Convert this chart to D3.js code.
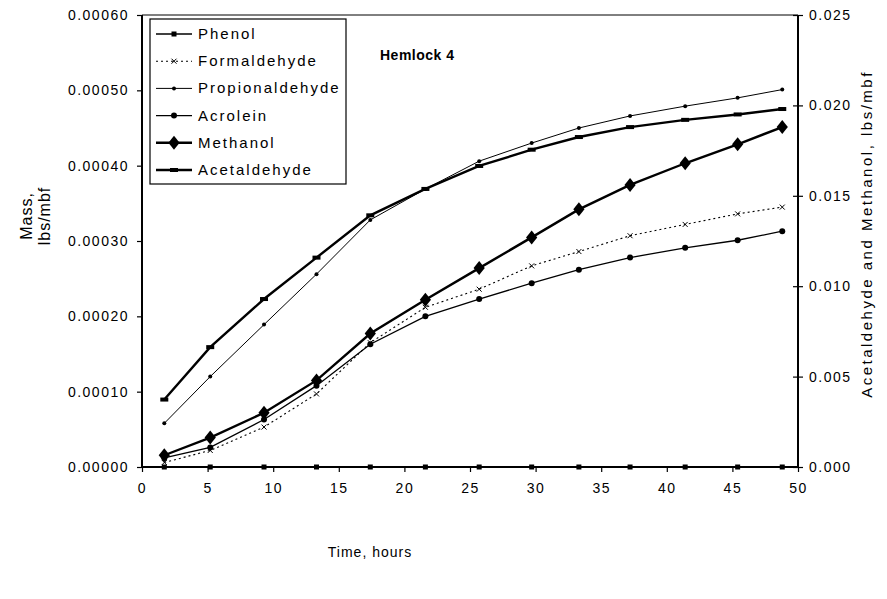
<!DOCTYPE html>
<html>
<head>
<meta charset="utf-8">
<script src="https://cdn.jsdelivr.net/npm/d3@7"></script>
<style>
  body { margin: 0; background: #fff; }
  svg text { font-family: "Liberation Sans", Arial, sans-serif; fill: #000; }
</style>
</head>
<body>
<svg id="chart" width="887" height="599"></svg>
<script>
// 時間 (hours)
const hours = [1.7, 5.2, 9.3, 13.3, 17.4, 21.6, 25.7, 29.7, 33.3, 37.2, 41.4, 45.4, 48.8];

// 左軸 (lbs/mbf)
const phenol = [0, 0, 0, 0, 0, 0, 0, 0, 0, 0, 0, 0, 0];
const formaldehyde = [0.000006, 0.000022, 0.000053, 0.000097, 0.000165, 0.000212, 0.000236, 0.000267, 0.000286, 0.000307, 0.000322, 0.000336, 0.000345];
const propionaldehyde = [0.000058, 0.00012, 0.000189, 0.000256, 0.000328, 0.000369, 0.000406, 0.000430, 0.000450, 0.000466, 0.000479, 0.000490, 0.000501];
const acrolein = [0.000012, 0.000026, 0.000063, 0.000108, 0.000163, 0.0002, 0.000223, 0.000244, 0.000262, 0.000278, 0.000291, 0.000301, 0.000313];

// 右軸 (lbs/mbf)
const methanol = [0.00065, 0.00163, 0.0030, 0.00479, 0.00738, 0.00925, 0.01100, 0.01270, 0.01425, 0.01560, 0.01680, 0.01785, 0.01880];
const acetaldehyde = [0.00373, 0.00663, 0.00929, 0.01158, 0.01392, 0.01538, 0.01665, 0.01755, 0.01825, 0.01880, 0.01920, 0.01950, 0.01980];

const xTicks = [0, 5, 10, 15, 20, 25, 30, 35, 40, 45, 50];
const leftTicks = [0, 0.0001, 0.0002, 0.0003, 0.0004, 0.0005, 0.0006];
const rightTicks = [0, 0.005, 0.01, 0.015, 0.02, 0.025];

const series = [
  { name: "Phenol", values: phenol, axis: "left", width: 1.6, dash: null, marker: "square", size: 5 },
  { name: "Formaldehyde", values: formaldehyde, axis: "left", width: 1.1, dash: "2,3", marker: "cross", size: 5 },
  { name: "Propionaldehyde", values: propionaldehyde, axis: "left", width: 1, dash: null, marker: "dot", size: 2 },
  { name: "Acrolein", values: acrolein, axis: "left", width: 1.3, dash: null, marker: "dot", size: 3 },
  { name: "Methanol", values: methanol, axis: "right", width: 2.4, dash: null, marker: "diamond", size: 7 },
  { name: "Acetaldehyde", values: acetaldehyde, axis: "right", width: 2.4, dash: null, marker: "dash", size: 4 },
];

const margin = { left: 142, right: 798, top: 15, bottom: 467 };
const svg = d3.select("#chart");

const x = d3.scaleLinear().domain([0, 50]).range([margin.left, margin.right]);
const yL = d3.scaleLinear().domain([0, 0.0006]).range([margin.bottom, margin.top]);
const yR = d3.scaleLinear().domain([0, 0.025]).range([margin.bottom, margin.top]);

// 枠
svg.append("line")
  .attr("x1", margin.left).attr("x2", margin.right)
  .attr("y1", margin.top).attr("y2", margin.top)
  .attr("stroke", "#000").attr("stroke-width", 1);

// 軸
const xAxis = svg.append("g")
  .attr("transform", `translate(0,${margin.bottom})`)
  .call(d3.axisBottom(x).tickValues(xTicks).tickFormat(d3.format("d")).tickSize(5).tickPadding(11));

const leftAxis = svg.append("g")
  .attr("transform", `translate(${margin.left},0)`)
  .call(d3.axisLeft(yL).tickValues(leftTicks).tickFormat(d3.format(".5f")).tickSize(5).tickPadding(8));

const rightAxis = svg.append("g")
  .attr("transform", `translate(${margin.right},0)`)
  .call(d3.axisRight(yR).tickValues(rightTicks).tickFormat(d3.format(".3f")).tickSize(5).tickPadding(6));
rightAxis.selectAll(".tick line").attr("x1", -5);

[xAxis, leftAxis, rightAxis].forEach((g) => {
  g.selectAll(".domain").attr("stroke-width", 2);
  g.selectAll("text").style("font-size", "14px").style("letter-spacing", "1.5px").attr("fill", "#000");
  g.selectAll(".tick line").attr("stroke-width", 1.2);
});
xAxis.select(".domain").attr("d", `M${margin.left},0H${margin.right}`);
leftAxis.select(".domain").attr("d", `M0,${margin.top}V${margin.bottom}`);
rightAxis.select(".domain").attr("d", `M0,${margin.top}V${margin.bottom}`);

// 軸タイトル
svg.append("text")
  .attr("x", 370).attr("y", 557)
  .attr("text-anchor", "middle")
  .style("font-size", "14px")
  .style("letter-spacing", "1px")
  .text("Time, hours");

const leftTitle = svg.append("text")
  .attr("transform", "translate(32,216) rotate(-90)")
  .attr("text-anchor", "middle")
  .style("font-size", "16px")
  .style("letter-spacing", "1px");
leftTitle.append("tspan").attr("x", 0).attr("dy", 0).text("Mass,");
leftTitle.append("tspan").attr("x", 0).attr("dy", 18).text("lbs/mbf");

svg.append("text")
  .attr("transform", "translate(872,234) rotate(-90)")
  .attr("text-anchor", "middle")
  .style("font-size", "15px")
  .style("letter-spacing", "2.5px")
  .text("Acetaldehyde and Methanol, lbs/mbf");

svg.append("text")
  .attr("x", 380).attr("y", 60)
  .style("font-size", "14px")
  .style("font-weight", "bold")
  .style("letter-spacing", "0.5px")
  .text("Hemlock 4");

// マーカー描画
function drawMarker(g, type, cx, cy, s) {
  if (type === "square") {
    g.append("rect").attr("x", cx - s / 2).attr("y", cy - s / 2)
      .attr("width", s).attr("height", s).attr("fill", "#000");
  } else if (type === "diamond") {
    g.append("path")
      .attr("d", `M${cx},${cy - s}L${cx + s * 0.8},${cy}L${cx},${cy + s}L${cx - s * 0.8},${cy}Z`)
      .attr("fill", "#000");
  } else if (type === "cross") {
    g.append("path")
      .attr("d", `M${cx - s / 2},${cy - s / 2}L${cx + s / 2},${cy + s / 2}M${cx - s / 2},${cy + s / 2}L${cx + s / 2},${cy - s / 2}`)
      .attr("stroke", "#000").attr("stroke-width", 1);
  } else if (type === "dot") {
    g.append("circle").attr("cx", cx).attr("cy", cy).attr("r", s).attr("fill", "#000");
  } else if (type === "dash") {
    g.append("rect").attr("x", cx - s).attr("y", cy - 2)
      .attr("width", s * 2).attr("height", 4).attr("fill", "#000");
  }
}

// 系列
const gLines = svg.append("g");
series.forEach((s) => {
  const yS = s.axis === "left" ? yL : yR;
  const pts = hours.map((h, i) => [x(h), yS(s.values[i])]);
  gLines.append("path")
    .attr("d", d3.line()(pts))
    .attr("fill", "none")
    .attr("stroke", "#000")
    .attr("stroke-width", s.width)
    .attr("stroke-dasharray", s.dash);
  const gm = gLines.append("g");
  pts.forEach(([cx, cy]) => drawMarker(gm, s.marker, cx, cy, s.size));
});

// 凡例
const legend = svg.append("g");
legend.append("rect")
  .attr("x", 150).attr("y", 19).attr("width", 196).attr("height", 165)
  .attr("fill", "#fff").attr("stroke", "#000").attr("stroke-width", 1.2);
series.forEach((s, i) => {
  const ly = 34 + i * 27.2;
  legend.append("line")
    .attr("x1", 156).attr("x2", 192).attr("y1", ly).attr("y2", ly)
    .attr("stroke", "#000").attr("stroke-width", s.width)
    .attr("stroke-dasharray", s.dash);
  drawMarker(legend, s.marker, 174, ly, s.size);
  legend.append("text")
    .attr("x", 198).attr("y", ly + 5)
    .style("font-size", "15px")
    .style("letter-spacing", "2px")
    .text(s.name);
});
</script>
</body>
</html>
